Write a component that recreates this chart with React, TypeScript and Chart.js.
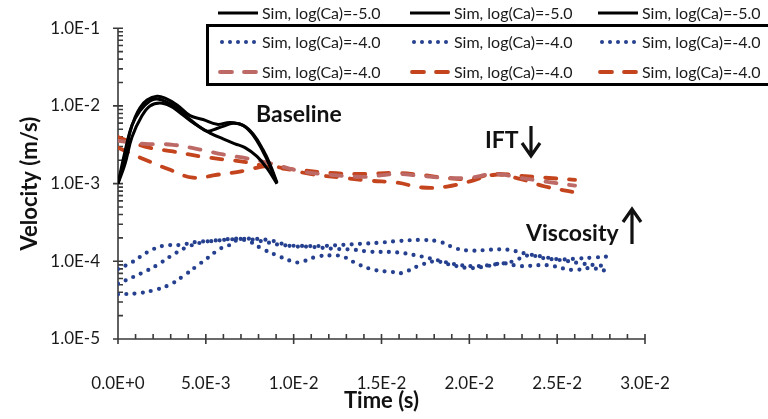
import React, { useEffect, useRef } from 'react';
import { Chart, registerables } from 'chart.js';

Chart.register(...registerables);

const FONT = 'Lato, "Open Sans", sans-serif';
const W = 768;
const H = 419;

// ---- axis definitions ----
const xTicks = [0, 0.005, 0.01, 0.015, 0.02, 0.025, 0.03];
const xTickLabels = ['0.0E+0', '5.0E-3', '1.0E-2', '1.5E-2', '2.0E-2', '2.5E-2', '3.0E-2'];
const yTicks = [1e-5, 1e-4, 1e-3, 1e-2, 1e-1];
const yTickLabels = ['1.0E-5', '1.0E-4', '1.0E-3', '1.0E-2', '1.0E-1'];

// ---- black solid (log(Ca)=-5.0) ----
const k1T = [0, 0.000398, 0.000683, 0.000968, 0.00125, 0.00165, 0.00222, 0.00268, 0.00336, 0.0041, 0.00484, 0.00564, 0.00638, 0.00712, 0.00769, 0.00825, 0.00865, 0.00905];
const k1V = [0.001, 0.00224, 0.0046, 0.00708, 0.00944, 0.01189, 0.01334, 0.01259, 0.0103, 0.0075, 0.00668, 0.00579, 0.00613, 0.00562, 0.00434, 0.00274, 0.00178, 0.00103];
const k2T = [0, 0.000398, 0.000797, 0.00125, 0.00182, 0.00222, 0.00279, 0.00336, 0.0041, 0.00467, 0.00507, 0.00552, 0.00598, 0.00655, 0.00712, 0.00769, 0.00825, 0.00865, 0.00905];
const k2V = [0.001, 0.00259, 0.00562, 0.00866, 0.01155, 0.01224, 0.01122, 0.00944, 0.00668, 0.00531, 0.00473, 0.00501, 0.00546, 0.00596, 0.00562, 0.00422, 0.00259, 0.00168, 0.001];
const k3T = [0, 0.000398, 0.000797, 0.00137, 0.00182, 0.00239, 0.00296, 0.00353, 0.0041, 0.00467, 0.00524, 0.00598, 0.00666, 0.00723, 0.00791, 0.00848, 0.00905];
const k3V = [0.001, 0.00178, 0.00398, 0.0075, 0.01, 0.0109, 0.01, 0.00818, 0.00649, 0.00531, 0.00447, 0.00376, 0.00325, 0.0029, 0.00224, 0.00158, 0.001];

// ---- blue dotted (viscosity) ----
const b1T = [0, 0.000797, 0.00165, 0.00256, 0.00359, 0.0045, 0.00552, 0.00638, 0.00734, 0.00837, 0.00922, 0.01036, 0.01178, 0.01281, 0.01378, 0.0148, 0.01605, 0.01736, 0.01833, 0.0193, 0.02021, 0.02118, 0.0222, 0.02317, 0.02414, 0.02516, 0.0263, 0.02715, 0.02783];
const b1V = [7.94e-5, 9.72e-5, 1.3e-4, 1.58e-4, 1.63e-4, 1.78e-4, 1.83e-4, 1.94e-4, 1.94e-4, 1.78e-4, 1.63e-4, 1.58e-4, 1.58e-4, 1.63e-4, 1.68e-4, 1.73e-4, 1.83e-4, 1.88e-4, 1.78e-4, 1.45e-4, 1.37e-4, 1.41e-4, 1.41e-4, 1.26e-4, 1.15e-4, 1.06e-4, 1.09e-4, 1.12e-4, 1.15e-4];
const b2T = [0, 0.00137, 0.00222, 0.00307, 0.00398, 0.00495, 0.00592, 0.00695, 0.00791, 0.00882, 0.00979, 0.01093, 0.01224, 0.01338, 0.01435, 0.01588, 0.01731, 0.01822, 0.01919, 0.02021, 0.02157, 0.02249, 0.02334, 0.02431, 0.02528, 0.0263, 0.02715, 0.02783];
const b2V = [5.16e-5, 7.08e-5, 8.91e-5, 1.19e-4, 1.54e-4, 1.78e-4, 1.88e-4, 1.94e-4, 1.94e-4, 1.83e-4, 1.58e-4, 1.54e-4, 1.45e-4, 1.41e-4, 1.33e-4, 1.3e-4, 1.15e-4, 1.03e-4, 9.17e-5, 8.66e-5, 9.17e-5, 1.0e-4, 1.19e-4, 1.09e-4, 1.03e-4, 9.44e-5, 8.91e-5, 8.66e-5];
const b3T = [0, 0.00108, 0.00199, 0.00296, 0.00381, 0.00455, 0.00507, 0.00581, 0.00626, 0.00683, 0.00751, 0.0082, 0.00894, 0.00991, 0.01036, 0.01133, 0.01224, 0.01281, 0.01366, 0.01463, 0.0156, 0.01617, 0.01708, 0.01805, 0.01901, 0.02004, 0.02101, 0.02192, 0.02288, 0.02442, 0.0259, 0.02687, 0.02783];
const b3V = [3.76e-5, 3.87e-5, 4.22e-5, 5.01e-5, 6.68e-5, 8.91e-5, 1.09e-4, 1.45e-4, 1.58e-4, 1.88e-4, 1.78e-4, 1.45e-4, 1.22e-4, 1.0e-4, 9.72e-5, 1.15e-4, 1.19e-4, 1.15e-4, 9.17e-5, 7.72e-5, 7.29e-5, 7.08e-5, 8.66e-5, 1.0e-4, 8.91e-5, 8.18e-5, 8.66e-5, 9.44e-5, 8.66e-5, 8.91e-5, 7.72e-5, 8.18e-5, 7.5e-5];

// ---- red dashed (IFT) ----
const r1T = [0, 0.00154, 0.00313, 0.00467, 0.00598, 0.00734, 0.00865, 0.01036, 0.01207, 0.01406, 0.01577, 0.01719, 0.01856, 0.01998, 0.02146, 0.02288, 0.02431, 0.02602];
const r1V = [0.00355, 0.00325, 0.00316, 0.00274, 0.00237, 0.00211, 0.00183, 0.00145, 0.0013, 0.00122, 0.00133, 0.00126, 0.00119, 0.00119, 0.00133, 0.00119, 0.00106, 0.000944];
const r2T = [0, 0.00154, 0.00313, 0.00467, 0.00598, 0.00734, 0.00865, 0.01036, 0.01207, 0.01406, 0.01577, 0.01719, 0.01856, 0.01998, 0.02146, 0.02288, 0.02431, 0.02602];
const r2V = [0.00398, 0.00299, 0.00259, 0.00224, 0.00205, 0.00188, 0.00163, 0.0015, 0.00137, 0.00133, 0.00137, 0.0013, 0.00119, 0.00115, 0.00133, 0.00126, 0.00119, 0.00112];
const r3T = [0, 0.00137, 0.00285, 0.00427, 0.00564, 0.00712, 0.00848, 0.00962, 0.01093, 0.01281, 0.01435, 0.01588, 0.01731, 0.01873, 0.01998, 0.02146, 0.02288, 0.02431, 0.02602];
const r3V = [0.0029, 0.00211, 0.00154, 0.00119, 0.0013, 0.00145, 0.00168, 0.00154, 0.00133, 0.00119, 0.00109, 0.00103, 0.000891, 0.000917, 0.00106, 0.0013, 0.00115, 0.000917, 0.000772];

const LABEL_5 = 'Sim, log(Ca)=-5.0';
const LABEL_4 = 'Sim, log(Ca)=-4.0';

const BLACK = '#000000';
const BLUE = '#25408F';
const RED_LIGHT = '#BD6A66';
const RED_DARK = '#C4441E';

const AREA = { left: 118, top: 18, right: 645, bottom: 339 };

function pts(t: number[], v: number[]) {
  return t.map((x, i) => ({ x, y: v[i] }));
}

const solid = (label: string, t: number[], v: number[]) => ({
  label, data: pts(t, v), borderColor: BLACK, borderWidth: 3, pointRadius: 0, tension: 0.4, fill: false,
  kind: 'solid',
});
const dotted = (label: string, t: number[], v: number[]) => ({
  label, data: pts(t, v), borderColor: BLUE, borderWidth: 4.2, borderDash: [0, 8.3], borderCapStyle: 'round',
  pointRadius: 0, tension: 0.4, fill: false, kind: 'dot',
});
const dashed = (label: string, t: number[], v: number[], color: string) => ({
  label, data: pts(t, v), borderColor: color, borderWidth: 3.8, borderDash: [11, 13], borderCapStyle: 'round',
  pointRadius: 0, tension: 0.4, fill: false, kind: 'dash',
});

const decorPlugin = {
  id: 'decor',
  beforeDatasetsDraw(chart: any) {
    const ctx = chart.ctx;
    const xs = chart.scales.x;
    const ys = chart.scales.y;
    const x0 = xs.getPixelForValue(0);
    const yb = ys.getPixelForValue(1e-5);
    const yt = ys.getPixelForValue(1e-1);
    const xr = xs.getPixelForValue(0.03);
    ctx.save();
    ctx.strokeStyle = '#3a3a3a';
    ctx.lineWidth = 1.6;
    ctx.beginPath();
    ctx.moveTo(x0, yt);
    ctx.lineTo(x0, yb);
    ctx.moveTo(x0 - 5, yb);
    ctx.lineTo(xr, yb);
    yTicks.forEach((v) => {
      const p = ys.getPixelForValue(v);
      ctx.moveTo(x0 - 5, p);
      ctx.lineTo(x0 + 5, p);
    });
    for (let d = -5; d < -1; d++) {
      for (let m = 2; m <= 9; m++) {
        const p = ys.getPixelForValue(m * Math.pow(10, d));
        ctx.moveTo(x0, p);
        ctx.lineTo(x0 + 5, p);
      }
    }
    xTicks.forEach((v) => {
      const p = xs.getPixelForValue(v);
      ctx.moveTo(p, yb - 5);
      ctx.lineTo(p, yb + 5);
    });
    for (let i = 1; i < 30; i++) {
      if (i % 5 === 0) continue;
      const p = xs.getPixelForValue(i * 0.001);
      ctx.moveTo(p, yb);
      ctx.lineTo(p, yb - 5);
    }
    ctx.stroke();
    ctx.restore();
  },
  afterDraw(chart: any) {
    const ctx = chart.ctx;
    const ca = chart.chartArea;
    ctx.save();
    ctx.fillStyle = '#111';
    ctx.font = `bold 22px ${FONT}`;
    ctx.textAlign = 'center';
    ctx.textBaseline = 'middle';
    ctx.fillText('Time (s)', (ca.left + ca.right) / 2, 401);
    ctx.save();
    ctx.translate(30, (ca.top + ca.bottom) / 2);
    ctx.rotate(-Math.PI / 2);
    ctx.fillText('Velocity (m/s)', 0, 0);
    ctx.restore();

    ctx.font = `bold 23px ${FONT}`;
    ctx.textAlign = 'left';
    ctx.textBaseline = 'alphabetic';
    ctx.fillText('Baseline', 256, 122);
    ctx.fillText('IFT', 485, 148);
    ctx.fillText('Viscosity', 526, 241);
    ctx.strokeStyle = '#111';
    ctx.lineWidth = 3.2;
    ctx.lineCap = 'butt';
    ctx.beginPath();
    ctx.moveTo(531, 126);
    ctx.lineTo(531, 155);
    ctx.moveTo(522, 143);
    ctx.lineTo(531, 156);
    ctx.lineTo(540, 143);
    ctx.moveTo(632, 244);
    ctx.lineTo(632, 210);
    ctx.moveTo(623, 222);
    ctx.lineTo(632, 209);
    ctx.lineTo(641, 222);
    ctx.stroke();

    ctx.lineWidth = 3;
    ctx.strokeStyle = '#000';
    ctx.strokeRect(207.5, 25.5, 600, 59);
    const rowsY = [13, 42, 72];
    const textX = [262, 454, 642];
    ctx.font = `16px ${FONT}`;
    ctx.textBaseline = 'middle';
    ctx.fillStyle = '#1a1a1a';
    chart.data.datasets.forEach((ds: any, i: number) => {
      const row = Math.floor(i / 3);
      const col = i % 3;
      const y = rowsY[row];
      const tx = textX[col];
      const sx0 = tx - 44;
      const sx1 = tx - 4;
      ctx.save();
      ctx.strokeStyle = ds.borderColor;
      ctx.lineWidth = ds.borderWidth;
      if (ds.kind === 'dot') {
        ctx.fillStyle = ds.borderColor;
        for (let k = 0; k < 5; k++) {
          ctx.beginPath();
          ctx.arc(sx0 + 4 + k * 8, y, 2, 0, Math.PI * 2);
          ctx.fill();
        }
      } else if (ds.kind === 'dash') {
        ctx.lineCap = 'round';
        ctx.beginPath();
        ctx.moveTo(sx0 + 2, y);
        ctx.lineTo(sx0 + 14, y);
        ctx.moveTo(sx0 + 26, y);
        ctx.lineTo(sx0 + 38, y);
        ctx.stroke();
      } else {
        ctx.beginPath();
        ctx.moveTo(sx0, y);
        ctx.lineTo(sx1, y);
        ctx.stroke();
      }
      ctx.restore();
      ctx.fillText(ds.label, tx, y + 1);
    });
    ctx.restore();
  },
};

export default function App() {
  const ref = useRef<HTMLCanvasElement | null>(null);
  useEffect(() => {
    if (!ref.current) return;
    const chart = new Chart(ref.current, {
      type: 'line',
      data: {
        datasets: [
          solid(LABEL_5, k1T, k1V),
          solid(LABEL_5, k2T, k2V),
          solid(LABEL_5, k3T, k3V),
          dotted(LABEL_4, b1T, b1V),
          dotted(LABEL_4, b2T, b2V),
          dotted(LABEL_4, b3T, b3V),
          dashed(LABEL_4, r1T, r1V, RED_LIGHT),
          dashed(LABEL_4, r2T, r2V, RED_DARK),
          dashed(LABEL_4, r3T, r3V, RED_DARK),
        ] as any,
      },
      options: {
        responsive: false,
        maintainAspectRatio: false,
        animation: false,
        layout: { padding: { left: 0, top: AREA.top, right: W - AREA.right, bottom: 0 } },
        plugins: { legend: { display: false }, tooltip: { enabled: false } },
        scales: {
          x: {
            type: 'linear',
            min: 0,
            max: 0.03,
            afterBuildTicks: (s: any) => { s.ticks = xTicks.map((v) => ({ value: v })); },
            afterFit: (s: any) => { s.height = H - AREA.bottom; },
            grid: { display: false, drawTicks: false },
            border: { display: false },
            ticks: {
              autoSkip: false,
              maxRotation: 0,
              padding: 34,
              color: '#1a1a1a',
              font: { family: FONT, size: 17 },
              callback: (_v: any, i: number) => xTickLabels[i],
            },
          },
          y: {
            type: 'logarithmic',
            min: 1e-5,
            max: 1e-1,
            afterBuildTicks: (s: any) => { s.ticks = yTicks.map((v) => ({ value: v })); },
            afterFit: (s: any) => { s.width = AREA.left; },
            grid: { display: false, drawTicks: false },
            border: { display: false },
            ticks: {
              autoSkip: false,
              padding: 18,
              color: '#1a1a1a',
              font: { family: FONT, size: 17 },
              callback: (_v: any, i: number) => yTickLabels[i],
            },
          },
        },
      } as any,
      plugins: [decorPlugin],
    });
    return () => chart.destroy();
  }, []);
  return (
    <div style={{ position: 'absolute', left: 0, top: 0, width: W, height: H, background: '#fff' }}>
      <canvas ref={ref} width={W} height={H} style={{ width: W, height: H, display: 'block' }} />
    </div>
  );
}
